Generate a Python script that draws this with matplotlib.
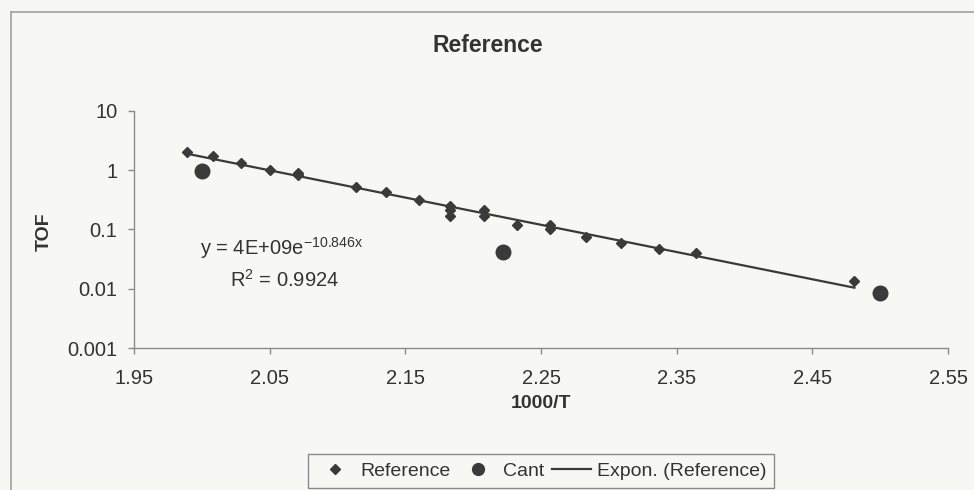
import matplotlib
matplotlib.use("Agg")
import matplotlib.pyplot as plt
import numpy as np
from matplotlib.lines import Line2D

# Font setup (Arial-like)
plt.rcParams['font.family'] = ['Liberation Sans', 'DejaVu Sans']
plt.rcParams['mathtext.default'] = 'regular'

# Data
ref_x = [1.989, 2.008, 2.029, 2.050, 2.071, 2.071, 2.114, 2.136, 2.160,
         2.183, 2.183, 2.183, 2.208, 2.208, 2.232, 2.257, 2.257, 2.283,
         2.309, 2.337, 2.364, 2.481]
ref_y = [2.03, 1.72, 1.30, 1.02, 0.88, 0.82, 0.51, 0.42, 0.31,
         0.25, 0.21, 0.17, 0.21, 0.17, 0.12, 0.12, 0.10, 0.074,
         0.059, 0.047, 0.040, 0.0136]
cant_x = [2.0, 2.222, 2.5]
cant_y = [0.98, 0.041, 0.0085]

x_ticks = [1.95, 2.05, 2.15, 2.25, 2.35, 2.45, 2.55]
y_ticks = [0.001, 0.01, 0.1, 1, 10]
y_tick_labels = ['0.001', '0.01', '0.1', '1', '10']

bg = '#f7f7f3'
ink = '#333333'
mark = '#3a3a3a'
axis_col = '#8a8a8a'

fig = plt.figure(figsize=(9.74, 4.90), dpi=100, facecolor=bg)
ax = fig.add_axes([134/974, 1 - 348/490, (948 - 134)/974, (348 - 110.7)/490])
ax.set_facecolor(bg)

# exponential trendline fitted to the Reference series
coef = np.polyfit(ref_x, np.log(ref_y), 1)
xf = np.linspace(min(ref_x), max(ref_x), 100)
ax.plot(xf, np.exp(np.polyval(coef, xf)), color=mark, lw=1.6, zorder=2)

ax.plot(ref_x, ref_y, 'D', color=mark, ms=5.5, zorder=3)
ax.plot(cant_x, cant_y, 'o', color=mark, ms=10.5, zorder=3)

ax.set_yscale('log')
ax.set_xlim(1.95, 2.55)
ax.set_ylim(0.001, 10)
ax.set_xticks(x_ticks)
ax.set_xticklabels([f'{t:.2f}' for t in x_ticks])
ax.set_yticks(y_ticks)
ax.set_yticklabels(y_tick_labels)
ax.minorticks_off()

for s in ['top', 'right']:
    ax.spines[s].set_visible(False)
for s in ['left', 'bottom']:
    ax.spines[s].set_color(axis_col)
    ax.spines[s].set_linewidth(1.0)
ax.tick_params(direction='out', length=4, width=1, color=axis_col,
               labelsize=14.5, labelcolor=ink)
ax.tick_params(axis='x', pad=11)
ax.tick_params(axis='y', pad=8)

# trendline equation
ax.text(1.9986, 0.049, r'y = 4E+09e$^{-10.846x}$', fontsize=14.5, color=ink,
        ha='left', va='center')
ax.text(2.0207, 0.0141, r'R$^{2}$ = 0.9924', fontsize=14.5, color=ink,
        ha='left', va='center')

# titles
fig.text(488/974, 1 - 45/490, 'Reference', fontsize=16.5, fontweight='bold',
         color=ink, ha='center', va='center')
fig.text(44/974, 1 - 232/490, 'TOF', fontsize=14, fontweight='bold',
         color=ink, ha='center', va='center', rotation=90)
fig.text(541/974, 1 - 403/490, '1000/T', fontsize=14, fontweight='bold',
         color=ink, ha='center', va='center')

# chart-area border (left and top edges visible)
fig.add_artist(Line2D([11/974, 11/974], [0, 1 - 12/490], color='#a0a0a0',
                      lw=1.2, transform=fig.transFigure))
fig.add_artist(Line2D([11/974, 1], [1 - 12/490, 1 - 12/490], color='#a0a0a0',
                      lw=1.2, transform=fig.transFigure))

handles = [
    Line2D([], [], ls='none', marker='D', ms=5, color=mark),
    Line2D([], [], ls='none', marker='o', ms=8.5, color=mark),
    Line2D([], [], color=mark, lw=1.6),
]
leg = fig.legend(handles, ['Reference', 'Cant', 'Expon. (Reference)'],
                 loc='center', bbox_to_anchor=(541/974, 1 - 471/490), ncol=3,
                 fontsize=14, frameon=True, fancybox=False, edgecolor='#8a8a8a',
                 facecolor=bg, framealpha=1, handlelength=2.0, handletextpad=0.3,
                 columnspacing=0.4, borderpad=0.4, labelcolor=ink)
leg.get_frame().set_linewidth(1.0)

fig.savefig('out.png', dpi=100, facecolor=bg)
